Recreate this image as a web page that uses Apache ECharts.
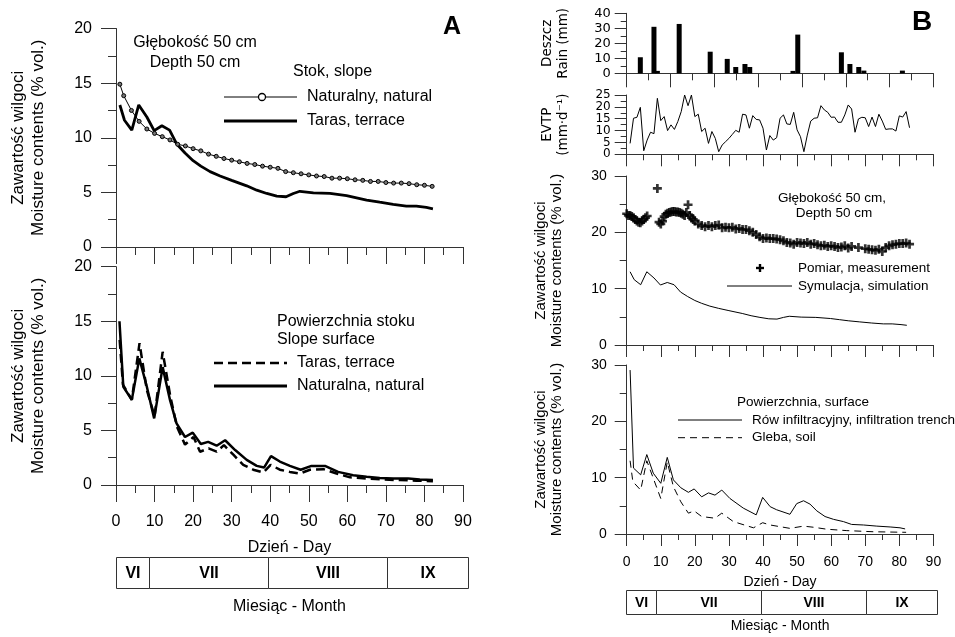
<!DOCTYPE html>
<html><head><meta charset="utf-8">
<script src="https://cdn.jsdelivr.net/npm/echarts@6.0.0/dist/echarts.min.js"></script>
<style>html,body{margin:0;padding:0;background:#fff}#c{width:955px;height:637px}</style>
</head><body><div id="c"></div>
<script>
// ---------- DATA ----------
const aNatDays = [1,2,4,6,8,10,12,14,16,18,20,22,24,26,28,30,32,34,36,38,40,42,44,46,48,50,52,54,56,58,60,62,64,66,68,70,72,74,76,78,80,82];
const aNatVals = [14.9,13.85,12.5,11.5,10.8,10.4,10.1,9.8,9.4,9.25,9.0,8.8,8.5,8.3,8.1,7.95,7.8,7.65,7.55,7.4,7.3,7.2,6.9,6.8,6.7,6.6,6.5,6.45,6.3,6.3,6.25,6.15,6.1,6.0,6.0,5.9,5.85,5.85,5.8,5.7,5.65,5.55];
const terrDays = [1,2.2,4.1,5.9,8,9.9,11.9,13.9,15.8,17.9,20,22,24.4,27,30,33.9,36.5,39.1,41.7,44.1,46,47.7,51.2,55.5,59.8,62.4,65,68.4,71.9,75.3,77.9,80.5,82.2];
const terrVals = [13.0,11.6,10.7,13.0,11.9,10.65,11.1,10.7,9.4,8.6,7.9,7.4,6.9,6.5,6.1,5.6,5.2,4.9,4.65,4.6,4.9,5.1,4.95,4.9,4.7,4.5,4.3,4.1,3.9,3.75,3.75,3.62,3.5];
const surfNatDays = [0.9,1.9,4.1,6.05,8,9.9,12.1,14,15.7,17.9,19.9,22,23.9,26.1,28.3,30.9,33.9,36.5,38.4,40.2,42.5,45.1,47.9,50.7,54.2,57.6,61.5,65,68.4,71.9,75.8,78.8,82.2];
const surfNatVals = [15.0,9.0,7.8,11.6,9.0,6.1,10.8,7.8,5.65,4.4,4.8,3.75,3.95,3.6,4.1,3.2,2.3,1.75,1.6,2.65,2.15,1.75,1.4,1.75,1.75,1.2,0.9,0.75,0.65,0.6,0.6,0.5,0.45];
const surfTerDays = [0.95,1.8,4.1,6.1,8,10,12.1,14.1,15.8,17.9,20.1,21.8,24,26.1,28,30.5,33,35.6,38.2,40.1,42.5,45.1,47.7,50.3,53.8,57.2,60.7,65,69.3,73.6,77.9,82.2];
const surfTerVals = [13.3,9.2,7.8,13.0,8.7,6.3,12.2,8.1,5.35,3.7,4.4,3.05,3.35,3.05,3.65,2.75,1.85,1.4,1.15,1.85,1.4,1.2,1.05,1.4,1.45,1.05,0.7,0.6,0.5,0.45,0.4,0.35];
const rainDays = [4,8,9,15.4,24.5,29.5,32,34.7,36.1,48.8,50.2,63,65.5,68.1,69.6,80.9];
const rainVals = [10.7,31,1.6,32.9,14.4,9.6,4.2,6.2,4.2,1.6,25.8,14,6.2,4.2,1.8,1.8];
const evtpDays = [1,2,3,4,5,6,7,8,9,10,11,12,13,14,15,16,17,18,19,20,21,22,23,24,25,26,27,28,29,30,31,32,33,34,35,36,37,38,39,40,41,42,43,44,45,46,47,48,49,50,51,52,53,54,55,56,57,58,59,60,61,62,63,64,65,66,67,68,69,70,71,72,73,74,75,76,77,78,79,80,81,82,83];
const evtpVals = [4.6,15.2,15.6,19.8,1.5,6.0,9.3,8.7,23.6,14.2,15.9,10.0,12.4,10.5,13.8,18.0,25.0,20.5,25.0,15.9,16.9,9.6,11.0,4.6,9.6,6.7,1.1,3.9,5.3,6.7,8.4,10.1,9.3,16.9,16.6,11.0,16.3,14.7,14.5,11.0,1.8,7.9,6.0,7.0,15.2,16.6,12.8,12.6,17.7,10.3,7.4,1.1,8.1,14.0,15.2,15.4,20.5,18.7,17.7,15.6,15.7,13.5,13.5,16.6,20.8,19.1,9.3,14.9,15.6,15.4,11.7,15.7,11.7,16.9,14.0,10.5,10.7,10.7,9.8,16.2,15.7,18.0,11.2];
const measDays = [0,0.5,1,1.5,2,2.5,3,3.5,4,4.5,5,5.5,6,9,9.5,10,10.5,11,11.5,12,12.5,13,13.5,14,14.5,15,15.5,16,16.5,17,17.5,18,18.5,19,19.5,20,21,22,23,24,25,26,27,28,29,30,31,32,33,34,35,36,37,38,39,40,41,42,43,44,45,46,47,48,49,50,51,52,53,54,55,56,57,58,59,60,61,62,63,64,65,66,68,70,71,72,73,74,75,76,77,78,79,80,81,82,83];
const measVals = [23.3,23.0,23.0,22.8,22.6,22.3,22.0,21.8,21.7,22.0,22.3,22.6,22.9,27.8,21.8,21.5,22.0,22.8,23.2,23.4,23.5,23.6,23.7,23.7,23.6,23.6,23.5,23.4,23.2,23.0,23.5,24.9,23.0,22.6,22.3,22.0,21.5,21.2,21.0,21.2,21.0,21.2,21.3,20.8,20.9,20.8,20.9,20.6,20.7,20.5,20.5,20.3,20.0,19.6,19.2,18.9,19.0,18.9,18.9,18.8,18.7,18.5,18.2,18.1,17.9,18.2,18.1,18.0,18.2,17.9,18.0,17.8,17.6,17.7,17.5,17.6,17.5,17.3,17.4,17.6,17.2,17.5,17.3,17.1,17.0,16.9,16.8,17.0,16.6,17.3,17.6,17.8,17.9,18.0,18.0,18.1,17.9];
const trenchDays = [1,2,4.1,5.9,7.8,10,11.9,13.7,15.9,18.1,19.8,22,24,25.9,27.9,30.3,34.2,38,39.9,42.1,44,47.9,49.9,51.9,53.8,55.8,58.2,60.7,63.6,66,69.5,73.4,77.3,80.2,81.7];
const trenchVals = [29.1,11.7,10.5,14.1,10.8,9.0,13.6,9.6,8.2,7.4,8.0,6.6,7.3,6.9,7.8,6.3,4.6,3.4,6.5,4.85,4.3,3.5,5.4,5.9,5.3,4.1,3.1,2.6,2.2,1.7,1.6,1.4,1.25,1.1,0.9];
const soilDays = [1,1.8,4.1,5.9,7.8,10,11.9,13.7,15.9,18.1,19.8,22,25.9,27.9,31.3,37.2,39.9,42.1,47.9,51.9,54.8,58.7,64.6,72.4,82];
const soilVals = [13.0,9.3,7.8,13.0,9.9,6.3,12.8,8.4,5.7,3.7,4.1,3.1,2.8,3.7,2.2,1.1,2.0,1.6,1.0,1.4,1.2,0.85,0.6,0.4,0.3];
const monthNames = ['VI','VII','VIII','IX'];
const monthBounds = [0,8.7,39.6,70.5,91.3];

// ---------- HELPERS ----------
const pairs = (xs, ys) => xs.map((x, i) => [x, ys[i]]);
const AX = '#333';
const SANS = 'Liberation Sans';
const DEJ = 'DejaVu Sans';
const monthData = monthNames.map((n, i) => [monthBounds[i], monthBounds[i + 1]]);
const snap = v => Math.round(v - 0.5) + 0.5;

function xAx(grid, o) {
  const a = {
    gridIndex: grid, type: 'value', min: 0, max: 90, interval: o.interval || 10,
    axisLine: {show: true, onZero: false, lineStyle: {color: AX}},
    axisTick: {show: true, length: o.tick || 12, lineStyle: {color: AX}},
    minorTick: {show: true, splitNumber: 2, length: o.minor || 6, lineStyle: {color: AX}},
    axisLabel: o.label ? {show: true, color: '#000', fontSize: o.fs, margin: o.margin} : {show: false},
    splitLine: {show: false}
  };
  if (o.name) {
    a.name = o.name; a.nameLocation = 'middle'; a.nameGap = o.nameGap;
    a.nameTextStyle = {color: '#000', fontSize: o.fs};
  }
  return a;
}
function yAx(grid, o) {
  return {
    gridIndex: grid, type: 'value', min: 0, max: o.max, interval: o.interval,
    axisLine: {show: true, onZero: false, lineStyle: {color: AX}},
    axisTick: {show: true, length: o.tick, lineStyle: {color: AX}},
    minorTick: {show: true, splitNumber: 2, length: o.minor, lineStyle: {color: AX}},
    axisLabel: {show: true, color: '#000', fontFamily: o.ff || SANS, fontSize: o.fs, margin: o.margin,
      showMinLabel: true, showMaxLabel: true},
    name: o.name, nameLocation: 'middle', nameRotate: 90, nameGap: o.nameGap,
    nameTextStyle: {color: '#000', fontFamily: o.ff || SANS, fontSize: o.nfs, lineHeight: o.lh},
    splitLine: {show: false}
  };
}
function monthAxes(grid, fs, gap) {
  return [{
    gridIndex: grid, type: 'value', min: 0, max: 90, show: true,
    axisLine: {show: false}, axisTick: {show: false}, axisLabel: {show: false}, splitLine: {show: false},
    name: 'Miesiąc - Month', nameLocation: 'middle', nameGap: gap,
    nameTextStyle: {color: '#000', fontSize: fs}
  }, {gridIndex: grid, type: 'value', min: 0, max: 1, show: false}];
}
function monthSeries(xi, yi, fs) {
  return {
    type: 'custom', xAxisIndex: xi, yAxisIndex: yi, clip: false, silent: true, data: monthData,
    renderItem: function (params, api) {
      const s = api.coord([api.value(0), 0]);
      const e = api.coord([api.value(1), 1]);
      const x0 = snap(s[0]), x1 = snap(e[0]), y0 = snap(e[1]), y1 = snap(s[1]);
      return {type: 'group', children: [
        {type: 'rect', shape: {x: x0, y: y0, width: x1 - x0, height: y1 - y0}, style: {fill: '#fff', stroke: AX, lineWidth: 1}},
        {type: 'text', style: {text: monthNames[params.dataIndex], x: (x0 + x1) / 2, y: (y0 + y1) / 2 + 1,
          align: 'center', verticalAlign: 'middle', font: 'bold ' + fs + 'px "' + SANS + '"', fill: '#000'}}
      ]};
    }
  };
}
function txt(x, y, t, font, align) {
  return {type: 'text', x: x, y: y, style: {text: t, font: font, fill: '#000', align: align || 'left', verticalAlign: 'middle'}};
}
function ln(x1, y1, x2, y2, w, dash) {
  const s = {stroke: '#000', lineWidth: w};
  if (dash) s.lineDash = dash;
  return {type: 'line', shape: {x1: x1, y1: y1, x2: x2, y2: y2}, style: s};
}
const FA = '16px "' + SANS + '"';
const FB = '13.5px "' + SANS + '"';
const PLUS = 'path://M2.8,0H5.2V2.8H8V5.2H5.2V8H2.8V5.2H0V2.8H2.8Z';
const yTitle = 'Zawartość wilgoci\nMoisture contents (% vol.)';

const option = {
  animation: false,
  textStyle: {fontFamily: SANS},
  grid: [
    {left: 116, top: 28.5, width: 347, height: 218.5},
    {left: 116, top: 266.7, width: 347, height: 218.3},
    {left: 116, top: 557.7, width: 347, height: 31},
    {left: 626.7, top: 13.3, width: 306.7, height: 60},
    {left: 626.7, top: 95, width: 306.7, height: 59.3},
    {left: 626.7, top: 176, width: 306.7, height: 169},
    {left: 626.7, top: 365, width: 306.7, height: 169},
    {left: 626.7, top: 590.7, width: 306.7, height: 23.6}
  ],
  xAxis: [
    xAx(0, {tick: 17, minor: 8}),
    xAx(1, {tick: 17, minor: 8, label: true, fs: 16, margin: 29, name: 'Dzień - Day', nameGap: 55}),
    monthAxes(2, 16, 10)[0],
    xAx(3, {interval: 90 / 7, tick: 14, minor: 7}),
    xAx(4, {}),
    xAx(5, {}),
    xAx(6, {label: true, fs: 14, margin: 21, name: 'Dzień - Day', nameGap: 41}),
    monthAxes(7, 14, 5)[0]
  ],
  yAxis: [
    yAx(0, {max: 20, interval: 5, tick: 15, minor: 8, fs: 16, margin: 24, name: yTitle, nameGap: 68, nfs: 17, lh: 20}),
    yAx(1, {max: 20, interval: 5, tick: 15, minor: 8, fs: 16, margin: 24, name: yTitle, nameGap: 68, nfs: 17, lh: 20}),
    monthAxes(2, 16, 10)[1],
    yAx(3, {max: 40, interval: 10, tick: 12, minor: 6, fs: 13, margin: 16, ff: DEJ, name: 'Deszcz\nRain (mm)', nameGap: 55, nfs: 13.5, lh: 16}),
    yAx(4, {max: 25, interval: 5, tick: 12, minor: 6, fs: 12, margin: 16, ff: DEJ, name: 'EVTP\n(mm·d⁻¹)', nameGap: 55, nfs: 13.5, lh: 16}),
    yAx(5, {max: 30, interval: 10, tick: 12, minor: 7, fs: 14, margin: 20, name: yTitle, nameGap: 62, nfs: 15, lh: 16}),
    yAx(6, {max: 30, interval: 10, tick: 12, minor: 7, fs: 14, margin: 20, name: yTitle, nameGap: 62, nfs: 15, lh: 16}),
    monthAxes(7, 14, 5)[1]
  ],
  series: [
    {type: 'line', xAxisIndex: 0, yAxisIndex: 0, data: pairs(aNatDays, aNatVals),
      symbol: 'circle', symbolSize: 4, lineStyle: {color: '#000', width: 1},
      itemStyle: {color: '#777', borderColor: '#000', borderWidth: 1}},
    {type: 'line', xAxisIndex: 0, yAxisIndex: 0, data: pairs(terrDays, terrVals),
      symbol: 'none', lineStyle: {color: '#000', width: 2.8}},
    {type: 'line', xAxisIndex: 1, yAxisIndex: 1, data: pairs(surfTerDays, surfTerVals),
      symbol: 'none', lineStyle: {color: '#000', width: 2.5, type: [9, 5]}},
    {type: 'line', xAxisIndex: 1, yAxisIndex: 1, data: pairs(surfNatDays, surfNatVals),
      symbol: 'none', lineStyle: {color: '#000', width: 2.5}},
    monthSeries(2, 2, 16),
    {type: 'bar', xAxisIndex: 3, yAxisIndex: 3, data: pairs(rainDays, rainVals),
      barWidth: 5, itemStyle: {color: '#000'}},
    {type: 'line', xAxisIndex: 4, yAxisIndex: 4, data: pairs(evtpDays, evtpVals),
      symbol: 'none', lineStyle: {color: '#000', width: 1}},
    {type: 'scatter', xAxisIndex: 5, yAxisIndex: 5, data: pairs(measDays, measVals),
      symbol: PLUS, symbolSize: 9, itemStyle: {color: '#000'}},
    {type: 'line', xAxisIndex: 5, yAxisIndex: 5, data: pairs(terrDays, terrVals),
      symbol: 'none', lineStyle: {color: '#000', width: 1}},
    {type: 'line', xAxisIndex: 6, yAxisIndex: 6, data: pairs(trenchDays, trenchVals),
      symbol: 'none', lineStyle: {color: '#000', width: 1}},
    {type: 'line', xAxisIndex: 6, yAxisIndex: 6, data: pairs(soilDays, soilVals),
      symbol: 'none', lineStyle: {color: '#000', width: 1, type: [7, 5]}},
    monthSeries(7, 7, 14)
  ],
  graphic: [
    txt(452, 27, 'A', 'bold 25px "' + SANS + '"', 'center'),
    txt(922, 22, 'B', 'bold 28px "' + SANS + '"', 'center'),
    txt(195, 43, 'Głębokość 50 cm', FA, 'center'),
    txt(195, 63, 'Depth 50 cm', FA, 'center'),
    txt(293, 72, 'Stok, slope', FA),
    ln(224, 97, 297, 97, 1),
    {type: 'circle', shape: {cx: 262, cy: 97, r: 3.5}, style: {fill: '#fff', stroke: '#000', lineWidth: 1.3}},
    txt(307, 97, 'Naturalny, natural', FA),
    ln(224, 121, 297, 121, 3),
    txt(307, 121, 'Taras, terrace', FA),
    txt(277, 322, 'Powierzchnia stoku', FA),
    txt(277, 340, 'Slope surface', FA),
    ln(214, 363, 287, 363, 2.5, [9, 5]),
    txt(297, 363, 'Taras, terrace', FA),
    ln(214, 386, 287, 386, 3),
    txt(297, 386, 'Naturalna, natural', FA),
    txt(832, 198, 'Głębokość 50 cm,', FB, 'center'),
    txt(834, 213, 'Depth 50 cm', FB, 'center'),
    {type: 'rect', shape: {x: 758.8, y: 264, width: 2.4, height: 8}, style: {fill: '#000'}},
    {type: 'rect', shape: {x: 756, y: 266.8, width: 8, height: 2.4}, style: {fill: '#000'}},
    txt(798, 268, 'Pomiar, measurement', FB),
    ln(727, 286, 792, 286, 1),
    txt(798, 286, 'Symulacja, simulation', FB),
    txt(737, 402, 'Powierzchnia, surface', FB),
    ln(678, 420, 742, 420, 1),
    txt(752, 420, 'Rów infiltracyjny, infiltration trench', FB),
    ln(678, 437.7, 742, 437.7, 1, [7, 5]),
    txt(752, 437.7, 'Gleba, soil', FB)
  ]
};
const chart = echarts.init(document.getElementById('c'));
chart.setOption(option);
</script>
</body></html>
